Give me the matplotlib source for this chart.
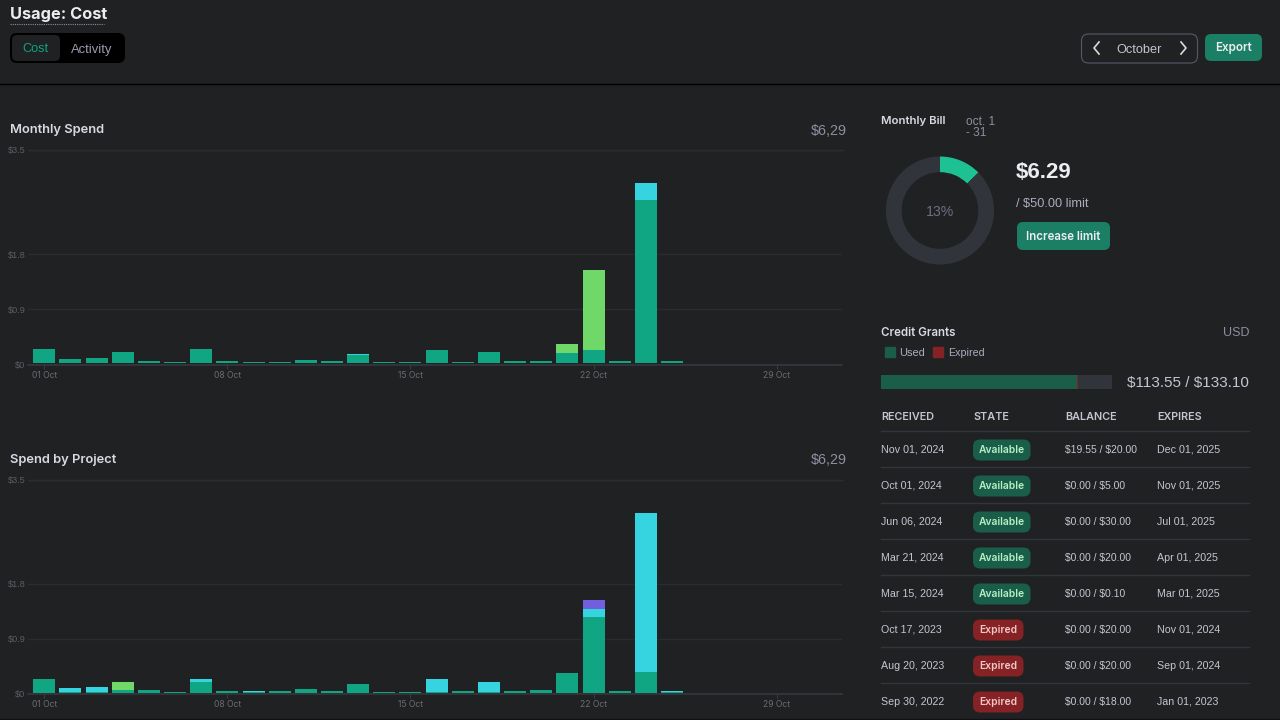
#!/usr/bin/env python

import numpy as np
import matplotlib
matplotlib.use("Agg")
import matplotlib.pyplot as plt
from matplotlib.patches import FancyBboxPatch, Rectangle

plt.rcParams['font.family'] = ['Liberation Sans', 'DejaVu Sans']

# ---- data
days = list(range(1, 26))
day_ticks = [1, 8, 15, 22, 29]
day_labels = ['01 Oct', '08 Oct', '15 Oct', '22 Oct', '29 Oct']
y_ticks = [0, 0.9, 1.8, 3.5]
y_labels = ['\\$0', '\\$0.9', '\\$1.8', '\\$3.5']

spend_green = [.225, .07, .086, .18, .042, .013, .225, .03, .025, .025, .053, .03, .13,
               .02, .02, .217, .02, .18, .035, .042, .163, .217, .042, 2.66, .042]
spend_cyan = [0, 0, 0, 0, 0, 0, 0, 0, 0, 0, 0, 0, .02,
              0, 0, 0, 0, 0, 0, 0, 0, 0, 0, .28, 0]
spend_lime = [0, 0, 0, 0, 0, 0, 0, 0, 0, 0, 0, 0, 0,
              0, 0, 0, 0, 0, 0, 0, .157, 1.305, 0, 0, 0]

project_green = [.225, .02, .01, .045, .04, .01, .17, .03, .015, .025, .055, .03, .144,
                 .02, .02, .01, .03, .02, .035, .045, .32, 1.245, .035, .34, .01]
project_cyan = [0, .053, .08, 0, 0, 0, .055, 0, .015, 0, 0, 0, 0,
                0, 0, .21, 0, .16, 0, 0, 0, .13, 0, 2.607, .025]
project_lime = [0, 0, 0, .131, 0, 0, 0, 0, 0, 0, 0, 0, 0,
                0, 0, 0, 0, 0, 0, 0, 0, 0, 0, 0, 0]
project_purple = [0, 0, 0, 0, 0, 0, 0, 0, 0, 0, 0, 0, 0,
                  0, 0, 0, 0, 0, 0, 0, 0, .145, 0, 0, 0]
bar_floor = 0.02

bill_share = [12.58, 87.42]
grant_used = 113.0
grant_expired = 0.55
grant_left = 19.55

received = ['Nov 01, 2024', 'Oct 01, 2024', 'Jun 06, 2024', 'Mar 21, 2024',
            'Mar 15, 2024', 'Oct 17, 2023', 'Aug 20, 2023', 'Sep 30, 2022']
state = ['Available', 'Available', 'Available', 'Available', 'Available',
         'Expired', 'Expired', 'Expired']
balance = ['$19.55 / $20.00', '$0.00 / $5.00', '$0.00 / $30.00', '$0.00 / $20.00',
           '$0.00 / $0.10', '$0.00 / $20.00', '$0.00 / $20.00', '$0.00 / $18.00']
expires = ['Dec 01, 2025', 'Nov 01, 2025', 'Jul 01, 2025', 'Apr 01, 2025',
           'Mar 01, 2025', 'Nov 01, 2024', 'Sep 01, 2024', 'Jan 01, 2023']

# ---- colours
BG = '#202123'
GREEN = '#11a683'
CYAN = '#36d3e0'
LIME = '#6fd868'
PURPLE = '#715fde'
GRID = '#2b2c32'
TRACK = '#32343c'
BTN = '#1a7f64'

W, H = 1280., 720.

fig = plt.figure(figsize=(12.8, 7.2), dpi=100, facecolor=BG)


def pixelAxes(x0, y0, x1, y1):
    # axes placed with screen pixels, y going down
    ax = fig.add_axes([x0 / W, 1 - y1 / H, (x1 - x0) / W, (y1 - y0) / H])
    ax.patch.set_alpha(0)
    return ax


ui = pixelAxes(0, 0, W, H)
ui.set_xlim(0, W)
ui.set_ylim(H, 0)
ui.axis('off')


def label(x, y, s, size=8, color='#c5c5d2', weight='normal', ha='left', family='Liberation Sans'):
    # a lone $ pair would switch on mathtext
    ui.text(x, y, s.replace('$', '\\$'), fontsize=size, color=color, fontweight=weight,
            ha=ha, va='center', family=[family, 'DejaVu Sans'])


def heading(x, y, s, size, color='#d9d9e3', weight=600, ha='left'):
    label(x, y, s, size, color, weight, ha, family='Inter')


def box(x0, y0, x1, y1, face, edge='none', r=5, lw=1):
    ui.add_patch(FancyBboxPatch((x0 + r, y0 + r), x1 - x0 - 2 * r, y1 - y0 - 2 * r,
                                boxstyle='round,pad=%g,rounding_size=%g' % (r, r),
                                facecolor=face, edgecolor=edge, linewidth=lw))


def barChart(y_top, y_bottom, series):
    ax = pixelAxes(28, y_top, 842, y_bottom)
    ax.set_xlim(0.377, 31.5)
    ax.set_ylim(0, 3.5)
    bottom = np.full(len(days), bar_floor)
    for values, colour in series:
        ax.bar(days, values, width=0.84, bottom=bottom, color=colour, zorder=3)
        bottom = bottom + np.array(values)
    ax.set_yticks(y_ticks)
    ax.set_yticklabels(y_labels, fontsize=6.6, color='#5c5d65')
    ax.set_xticks(day_ticks)
    ax.set_xticklabels(day_labels, fontsize=6.2, color='#6b6c73', family=['Inter', 'DejaVu Sans'])
    ax.tick_params(axis='y', length=0, pad=2)
    ax.tick_params(axis='x', length=3, width=0.8, color='#3a3b42', pad=1.5)
    ax.grid(axis='y', color=GRID, linewidth=1, zorder=1)
    ax.axhline(3.5, color='#33343c', linewidth=1, clip_on=False, zorder=1)
    for side in ['top', 'left', 'right']:
        ax.spines[side].set_visible(False)
    ax.spines['bottom'].set_color('#383942')
    ax.spines['bottom'].set_linewidth(1.1)
    return ax


barChart(150, 364.5, [(spend_green, GREEN), (spend_cyan, CYAN), (spend_lime, LIME)])
barChart(480, 694, [(project_green, GREEN), (project_lime, LIME),
                    (project_cyan, CYAN), (project_purple, PURPLE)])

# ---- header
heading(10, 14, 'Usage: Cost', 11.8, '#ececf1', 700)
ui.plot([10, 104], [24, 24], color='#8e8ea0', lw=0.8, ls=(0, (1, 1)))
box(10, 33, 125, 63, '#000000', r=7)
box(12, 35, 60, 61, BG, r=5)
label(35, 49.5, 'Cost', 9.2, '#10a37f', ha='center')
label(92, 49.5, 'Activity', 9.4, '#9b9bab', ha='center')
ui.plot([0, W], [84, 84], color='#000000', lw=1)
ui.plot([0, W], [718.5, 718.5], color='#111114', lw=1)

box(1081.5, 34, 1197.5, 63, BG, edge='#565869', r=7, lw=0.8)
label(1139.5, 50, 'October', 9.2, '#c5c5d2', ha='center')
ui.plot([1099, 1094, 1099], [42, 48, 54], color='#d9d9e3', lw=1.2)
ui.plot([1181, 1186, 1181], [42, 48, 54], color='#d9d9e3', lw=1.2)
box(1205, 34, 1262, 61, BTN, r=6)
heading(1233.5, 48, 'Export', 8.4, '#ececf1', 600, ha='center')

# ---- chart titles
heading(10, 130.5, 'Monthly Spend', 9.3)
label(846.5, 131, '$6,29', 10.4, '#8e8ea0', ha='right')
heading(10, 459.5, 'Spend by Project', 9.3)
label(846.5, 460, '$6,29', 10.4, '#8e8ea0', ha='right')

# ---- monthly bill
heading(881, 121, 'Monthly Bill', 8.2)
label(966, 122, 'oct. 1', 8.6, '#8e8ea0')
label(966, 133, '- 31', 8.6, '#8e8ea0')

donut = pixelAxes(886, 156.5, 994, 264.5)
donut.pie(bill_share, colors=['#1dc194', TRACK], startangle=90, counterclock=False,
          radius=1, wedgeprops={'width': 0.29})
donut.set_xlim(-1, 1)
donut.set_ylim(-1, 1)
label(940, 212, '13%', 10.2, '#6e6e80', ha='center')

label(1016, 173, '$6.29', 16, '#ececf1', 'bold')
label(1016, 204, '/ $50.00 limit', 9.2, '#acacbe')
box(1017, 222, 1110, 250, BTN, r=6)
heading(1063.5, 236.5, 'Increase limit', 8.3, '#ececf1', 600, ha='center')

# ---- credit grants
heading(881, 333, 'Credit Grants', 8.3)
label(1249, 333, 'USD', 9, '#8e8ea0', ha='right')
ui.add_patch(Rectangle((885, 347), 10, 10, color='#1a5e4a'))
label(899, 353, 'Used', 7.9, '#acacbe')
ui.add_patch(Rectangle((933, 347), 10, 10, color='#842225'))
label(948, 353, 'Expired', 7.7, '#acacbe')

grants = pixelAxes(881, 375, 1112, 389)
grants.barh([0], [grant_used], height=1, color='#1a5e4a')
grants.barh([0], [grant_expired], left=[grant_used], height=1, color='#842225')
grants.barh([0], [grant_left], left=[grant_used + grant_expired], height=1, color=TRACK)
grants.set_xlim(0, grant_used + grant_expired + grant_left)
grants.set_ylim(-0.5, 0.5)
grants.axis('off')

label(1249, 383, '$113.55 / $133.10', 11, '#c5c5d2', ha='right')

# ---- grants table
col_x = [881, 973, 1065, 1157]
headers = ['RECEIVED', 'STATE', 'BALANCE', 'EXPIRES']
for x, name in zip(col_x, headers):
    heading(x, 417, name, 7.8, '#c5c5d2', 600)

for i in range(len(received)):
    y = 450 + 36 * i
    ui.plot([881, 1249], [y - 19, y - 19], color='#34353c', lw=1)
    label(col_x[0], y, received[i], 7.7)
    label(col_x[2], y, balance[i], 7.5)
    label(col_x[3], y, expires[i], 7.7)
    if state[i] == 'Available':
        box(973, y - 10.5, 1030.5, y + 10.5, '#1a5e4a', r=7)
        heading(1001.7, y, state[i], 7.4, '#b6f0c5', 600, ha='center')
    else:
        box(973, y - 10.5, 1023.5, y + 10.5, '#842225', r=7)
        heading(998.2, y, state[i], 7.4, '#f4c6c6', 600, ha='center')

fig.savefig('out.png', dpi=100, facecolor=BG)
